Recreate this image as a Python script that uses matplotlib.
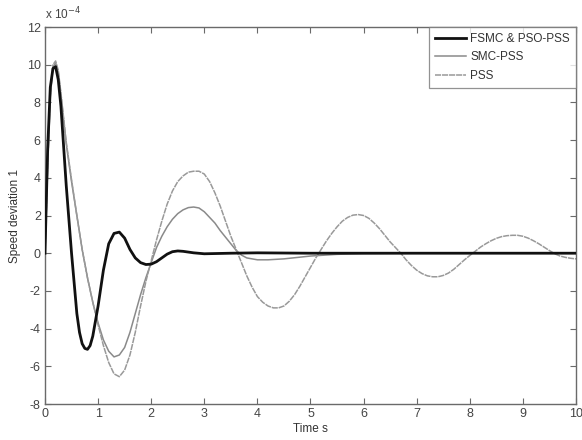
import matplotlib
matplotlib.use("Agg")
import matplotlib.pyplot as plt
from matplotlib.ticker import FuncFormatter, MultipleLocator

plt.rcParams['font.family'] = ['Liberation Sans', 'DejaVu Sans']

# time samples (s)
t_fast = [0.0, 0.05, 0.1, 0.15, 0.2, 0.25, 0.3, 0.4, 0.5, 0.6, 0.65, 0.7, 0.75, 0.8, 0.85, 0.9,
          1.0, 1.1, 1.2, 1.3, 1.4, 1.5, 1.6, 1.7, 1.8, 1.9, 2.0, 2.1, 2.2,
          2.3, 2.4, 2.5, 2.6, 2.8, 3.0, 3.5, 4.0, 5.0, 6.0, 7.0, 8.0, 9.0, 10.0]
# speed deviation, FSMC & PSO-PSS (x 1e-4)
fsmc = [0.0, 5.5, 8.8, 9.8, 9.9, 9.2, 7.8, 3.6, 0.0, -3.2, -4.2, -4.8, -5.05, -5.1, -4.9, -4.4,
        -2.8, -0.9, 0.5, 1.05, 1.12, 0.8, 0.2, -0.25, -0.5, -0.6, -0.58, -0.45, -0.25,
        -0.05, 0.08, 0.12, 0.1, 0.02, -0.03, 0.0, 0.02, 0.0, 0.0, 0.0, 0.0, 0.0, 0.0]

t_smc = [0.0, 0.05, 0.1, 0.15, 0.2, 0.25, 0.3, 0.4, 0.5, 0.6, 0.7, 0.8, 0.9,
         1.0, 1.1, 1.2, 1.3, 1.4, 1.5, 1.6, 1.7, 1.8, 1.9, 2.0, 2.1, 2.2,
         2.3, 2.4, 2.5, 2.6, 2.7, 2.8, 2.9, 3.0, 3.1, 3.2, 3.3, 3.4, 3.5,
         3.6, 3.7, 3.8, 4.0, 4.2, 4.5, 5.0, 5.5, 6.0, 7.0, 8.0, 9.0, 10.0]
# speed deviation, SMC-PSS (x 1e-4)
smc = [0.0, 4.5, 8.3, 9.9, 10.1, 9.6, 8.4, 5.8, 3.8, 2.0, 0.2, -1.3, -2.6,
       -3.7, -4.6, -5.2, -5.5, -5.4, -5.0, -4.2, -3.2, -2.2, -1.3, -0.5, 0.3, 0.9,
       1.4, 1.8, 2.1, 2.3, 2.42, 2.45, 2.4, 2.2, 1.9, 1.6, 1.2, 0.85, 0.5,
       0.15, -0.1, -0.25, -0.35, -0.35, -0.3, -0.15, -0.06, -0.02, 0.0, 0.0, 0.0, 0.0]

t_pss = [0.0, 0.05, 0.1, 0.15, 0.2, 0.25, 0.3, 0.4, 0.5, 0.6, 0.7, 0.8, 0.9,
         1.0, 1.1, 1.2, 1.3, 1.4, 1.5, 1.6, 1.7, 1.8, 1.9, 2.0, 2.1, 2.2,
         2.3, 2.4, 2.5, 2.6, 2.7, 2.8, 2.9, 3.0, 3.1, 3.2, 3.3, 3.4, 3.5,
         3.6, 3.7, 3.8, 3.9, 4.0, 4.1, 4.2, 4.3, 4.4, 4.5, 4.6, 4.7, 4.8,
         4.9, 5.0, 5.1, 5.2, 5.3, 5.4, 5.5, 5.6, 5.7, 5.8, 5.9, 6.0, 6.1,
         6.2, 6.3, 6.4, 6.5, 6.6, 6.7, 6.8, 6.9, 7.0, 7.1, 7.2, 7.3, 7.4,
         7.5, 7.6, 7.7, 7.8, 7.9, 8.0, 8.1, 8.2, 8.3, 8.4, 8.5, 8.6, 8.7,
         8.8, 8.9, 9.0, 9.1, 9.2, 9.3, 9.4, 9.5, 9.6, 9.7, 9.8, 9.9, 10.0]
# speed deviation, conventional PSS (x 1e-4)
pss = [0.0, 4.6, 8.4, 10.0, 10.2, 9.7, 8.5, 5.9, 3.9, 2.0, 0.2, -1.3, -2.6,
       -3.8, -4.9, -5.8, -6.4, -6.55, -6.2, -5.4, -4.2, -2.8, -1.5, -0.4, 0.7, 1.7,
       2.6, 3.3, 3.8, 4.1, 4.3, 4.35, 4.35, 4.2, 3.8, 3.2, 2.5, 1.7, 0.9,
       0.2, -0.5, -1.2, -1.8, -2.3, -2.6, -2.8, -2.9, -2.9, -2.8, -2.55, -2.2, -1.75,
       -1.25, -0.75, -0.25, 0.2, 0.65, 1.05, 1.4, 1.7, 1.9, 2.02, 2.05, 2.0, 1.85,
       1.6, 1.3, 0.95, 0.6, 0.3, 0.0, -0.35, -0.65, -0.9, -1.08, -1.2, -1.25, -1.25,
       -1.18, -1.05, -0.85, -0.6, -0.35, -0.12, 0.1, 0.32, 0.5, 0.66, 0.79, 0.88, 0.93,
       0.95, 0.95, 0.9, 0.8, 0.66, 0.5, 0.32, 0.14, -0.03, -0.15, -0.22, -0.27, -0.3]

labels = ['FSMC & PSO-PSS', 'SMC-PSS', 'PSS']
scale = 1e-4

fig = plt.figure(figsize=(5.82, 4.40), dpi=100)
ax = fig.add_axes([0.0773, 0.0818, 0.9124, 0.8568])

ax.plot(t_fast, [v * scale for v in fsmc], color='#111111', lw=2.0, label=labels[0], zorder=3)
ax.plot(t_smc, [v * scale for v in smc], color='#8a8a8a', lw=1.1, label=labels[1], zorder=2)
ax.plot(t_pss, [v * scale for v in pss], color='#999999', lw=1.1,
        linestyle=(0, (4.0, 0.6)), label=labels[2], zorder=2)

ax.set_xlim(0, 10)
ax.set_ylim(-8e-4, 12e-4)
ax.xaxis.set_major_locator(MultipleLocator(1))
ax.yaxis.set_major_locator(MultipleLocator(2e-4))
ax.yaxis.set_major_formatter(FuncFormatter(lambda v, p: f"{v / scale:.0f}"))

axis_col = '#6a6a6a'
for s in ax.spines.values():
    s.set_color(axis_col)
    s.set_linewidth(1.0)
ax.tick_params(direction='in', top=True, right=True, length=4, width=0.8,
               color=axis_col, labelsize=9, labelcolor='#444444', pad=3)

ax.text(0.0, 1.012, r'x 10$^{-4}$', transform=ax.transAxes, fontsize=8.5,
        color='#444444', ha='left', va='bottom')

ax.set_xlabel('Time s', fontsize=8.5, color='#333333', labelpad=2)
ax.set_ylabel('Speed deviation 1', fontsize=8.5, color='#333333', labelpad=4)

leg = ax.legend(loc='upper right', fontsize=8.5, frameon=True, fancybox=False,
                borderaxespad=0.0, handlelength=2.6, handletextpad=0.4,
                borderpad=0.5, labelspacing=0.55)
leg.get_frame().set_edgecolor('#777777')
leg.get_frame().set_linewidth(0.9)
for txt in leg.get_texts():
    txt.set_color('#333333')

fig.savefig('out.png', dpi=100)
